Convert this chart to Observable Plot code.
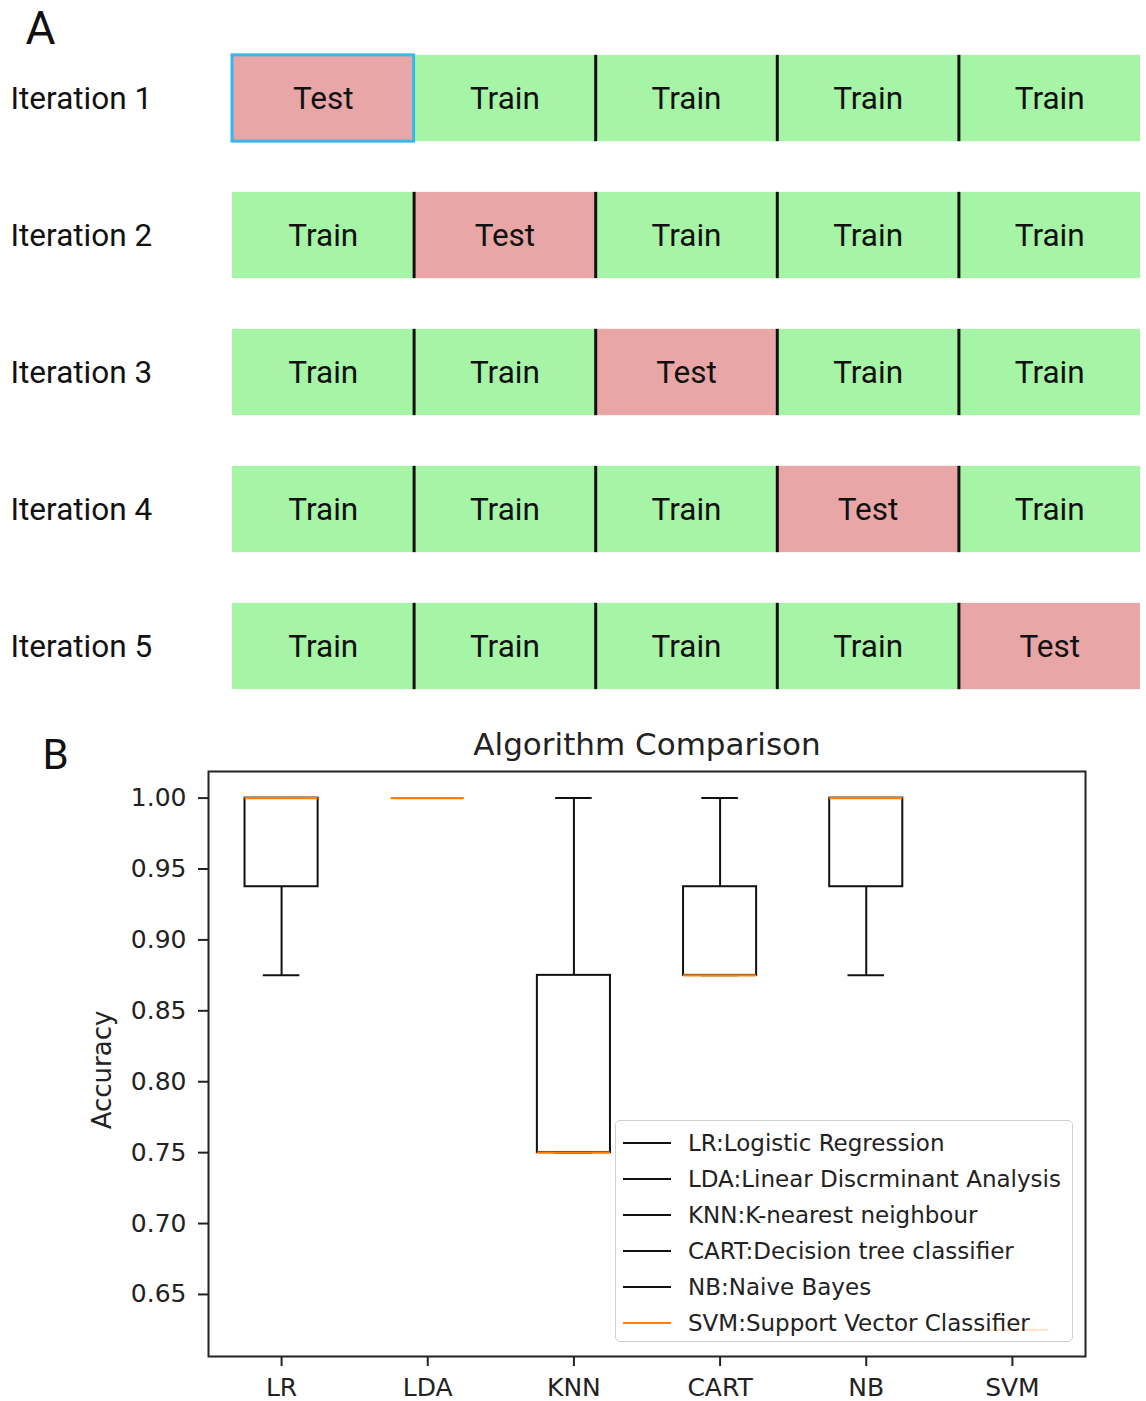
<!DOCTYPE html>
<html>
<head>
<meta charset="utf-8">
<script src="https://cdn.jsdelivr.net/npm/d3@7"></script>
<script src="https://cdn.jsdelivr.net/npm/@observablehq/plot@0.6"></script>
<style>
  body { margin: 0; background: #fff; }
  #root { position: relative; width: 1146px; height: 1401px; background: #fff; overflow: hidden; }
  #panelA { position: absolute; left: 0; top: 0; }
  #panelB { position: absolute; left: 0; top: 700px; }
  #legend { position: absolute; left: 615px; top: 1120px; width: 456px; height: 220px;
    background: rgba(255,255,255,0.8); border: 1.5px solid #d0d0d0; border-radius: 5px;
    font-family: "DejaVu Sans", sans-serif; font-size: 23px; color: #222; }
  .entry { position: absolute; left: 0; height: 30px; display: flex; align-items: center; }
  .swatch { display: inline-block; width: 48px; height: 2.5px; margin-left: 7px; margin-right: 17px; }
</style>
</head>
<body>
<div id="root">
  <div id="panelA"></div>
  <div id="panelB"></div>
  <div id="legend"></div>
</div>
<script>
// ---------- Panel A data ----------
const iterations = ["Iteration 1", "Iteration 2", "Iteration 3", "Iteration 4", "Iteration 5"];
const folds = [1, 2, 3, 4, 5];
const testFold = [1, 2, 3, 4, 5];
const kindColors = {Test: "#e8a6a6", Train: "#a6f4a6"};

// ---------- Panel B data ----------
const algorithms = ["LR", "LDA", "KNN", "CART", "NB", "SVM"];
const whiskerLow  = [0.875, 1.0, 0.75, 0.875, 0.875, 0.625];
const q1          = [0.9375, 1.0, 0.75, 0.875, 0.9375, 0.625];
const median      = [1.0, 1.0, 0.75, 0.875, 1.0, 0.625];
const q3          = [1.0, 1.0, 0.875, 0.9375, 1.0, 0.625];
const whiskerHigh = [1.0, 1.0, 1.0, 1.0, 1.0, 0.625];
const yTicks = [0.65, 0.70, 0.75, 0.80, 0.85, 0.90, 0.95, 1.00];
const legendLabels = [
  "LR:Logistic Regression",
  "LDA:Linear Discrminant Analysis",
  "KNN:K-nearest neighbour",
  "CART:Decision tree classifier",
  "NB:Naive Bayes",
  "SVM:Support Vector Classifier"
];
const legendColors = ["#111", "#111", "#111", "#111", "#111", "#ff7f0e"];

// ---------- Panel A ----------
const cells = iterations.flatMap((it, i) => folds.map(f => ({
  row: i + 1, fold: f, kind: f === testFold[i] ? "Test" : "Train"
})));
const half = 0.315;
const dividers = iterations.flatMap((it, i) => folds.slice(0, 4)
  .filter(b => !(i === 0 && b === 1))
  .map(b => ({row: i + 1, b})));
const rowsData = iterations.map((it, i) => ({row: i + 1, label: it}));

const plotA = Plot.plot({
  width: 1146, height: 700,
  marginLeft: 0, marginRight: 0, marginTop: 0, marginBottom: 0,
  x: {type: "linear", domain: [0, 5], range: [232, 1140], axis: null},
  y: {type: "linear", domain: [1, 5], range: [98, 646], axis: null},
  style: {fontFamily: "Roboto, sans-serif", background: "white"},
  marks: [
    Plot.rect(cells, {
      x1: d => d.fold - 1, x2: d => d.fold,
      y1: d => d.row - half, y2: d => d.row + half,
      fill: d => kindColors[d.kind], inset: 0
    }),
    Plot.ruleX(dividers, {x: "b", y1: d => d.row - half, y2: d => d.row + half, stroke: "#111", strokeWidth: 3}),
    Plot.rect(cells.filter(d => d.row === 1 && d.kind === "Test"), {
      x1: d => d.fold - 1, x2: d => d.fold,
      y1: d => d.row - half, y2: d => d.row + half,
      fill: "none", stroke: "#38b6ee", strokeWidth: 3, inset: 0
    }),
    Plot.text(cells, {
      x: d => d.fold - 0.5, y: "row", text: "kind",
      fontSize: 31.5, fill: "#111"
    }),
    Plot.text(rowsData, {
      y: "row", text: "label", frameAnchor: "left", dx: 10, textAnchor: "start",
      fontSize: 31.5, fill: "#111"
    }),
    Plot.text(["A"], {frameAnchor: "top-left", text: d => d, dx: 25, dy: 29, lineAnchor: "middle", textAnchor: "start", fontSize: 46, fill: "#111"})
  ]
});
document.getElementById("panelA").appendChild(plotA);

// ---------- Panel B ----------
const boxes = algorithms.map((a, i) => ({
  pos: i + 1, name: a, lo: whiskerLow[i], q1: q1[i], med: median[i], q3: q3[i], hi: whiskerHigh[i]
}));
const bw = 0.25, cw = 0.125;

const plotB = Plot.plot({
  width: 1146, height: 701,
  marginLeft: 208, marginRight: 61, marginTop: 71, marginBottom: 45,
  x: {type: "linear", domain: [0.5, 6.5]},
  y: {type: "linear", domain: [0.60625, 1.01875]},
  style: {fontFamily: "DejaVu Sans, sans-serif", fontSize: "25px", color: "#222", background: "white"},
  marks: [
    Plot.rect(boxes.filter(d => d.q3 > d.q1), {
      x1: d => d.pos - bw, x2: d => d.pos + bw, y1: "q1", y2: "q3",
      fill: "none", stroke: "#111", strokeWidth: 2, inset: 0
    }),
    Plot.ruleX(boxes, {x: "pos", y1: "lo", y2: "q1", stroke: "#111", strokeWidth: 2}),
    Plot.ruleX(boxes, {x: "pos", y1: "q3", y2: "hi", stroke: "#111", strokeWidth: 2}),
    Plot.ruleY(boxes, {y: "lo", x1: d => d.pos - cw, x2: d => d.pos + cw, stroke: "#111", strokeWidth: 2}),
    Plot.ruleY(boxes, {y: "hi", x1: d => d.pos - cw, x2: d => d.pos + cw, stroke: "#111", strokeWidth: 2}),
    Plot.ruleY(boxes, {y: "med", x1: d => d.pos - bw, x2: d => d.pos + bw, stroke: "#ff7f0e", strokeWidth: 2.4}),
    Plot.frame({stroke: "#222", strokeWidth: 2}),
    Plot.axisY({ticks: yTicks, tickFormat: d3.format(".2f"), tickSize: 10, tickPadding: 12, label: null, strokeWidth: 2}),
    Plot.axisX({ticks: algorithms.map((a, i) => i + 1), tickFormat: d => algorithms[d - 1], tickSize: 10, tickPadding: 12, label: null, strokeWidth: 2}),
    Plot.text(["Algorithm Comparison"], {frameAnchor: "top", text: d => d, dy: -26, lineAnchor: "middle", fontSize: 31, fill: "#222"}),
    Plot.text(["Accuracy"], {frameAnchor: "left", text: d => d, dx: -106, dy: 6, rotate: -90, textAnchor: "middle", lineAnchor: "middle", fontSize: 26, fill: "#222"}),
    Plot.text(["B"], {frameAnchor: "top-left", text: d => d, dx: -166, dy: -16, lineAnchor: "middle", textAnchor: "start", fontSize: 42, fill: "#111", fontFamily: "Roboto, sans-serif"})
  ]
});
document.getElementById("panelB").appendChild(plotB);

// ---------- Legend ----------
const legend = document.getElementById("legend");
legendLabels.forEach((lab, i) => {
  const e = document.createElement("div");
  e.className = "entry";
  e.style.top = (7 + i * 36) + "px";
  const sw = document.createElement("span");
  sw.className = "swatch";
  sw.style.background = legendColors[i];
  const t = document.createElement("span");
  t.textContent = lab;
  e.appendChild(sw); e.appendChild(t);
  legend.appendChild(e);
});
</script>
</body>
</html>
